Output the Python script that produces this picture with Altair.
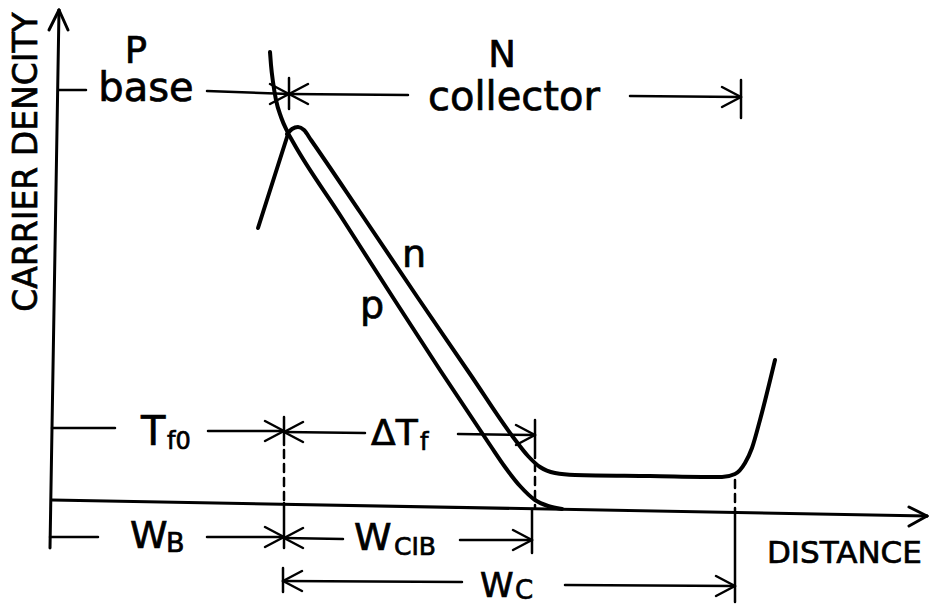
import altair as alt
import pandas as pd

W, H = 929, 604
FONT = "DejaVu Sans"

# ---- carrier density profiles (drawing units: x right, y down) ----
p_x = [270, 271, 273, 276, 281, 287, 293, 340, 392, 440, 490, 505, 520, 535, 548, 562]
p_y = [52, 65, 82, 100, 117, 131, 142, 215, 296, 370, 445, 467, 486, 500, 506, 509]

n_x = [287, 292, 298, 304, 311, 360, 418, 470, 513, 528, 540, 555, 575, 650, 722, 735, 745, 752, 760, 775]
n_y = [134, 129, 127, 130, 140, 212, 298, 374, 437, 456, 467, 473, 475, 476, 477, 474, 463, 448, 420, 360]

branch_x = [258, 288]
branch_y = [228, 134]

# ---- axes ----
axis_x1 = [50, 52]
axis_y1 = [548, 500]
axis_x2 = [59, 927]
axis_y2 = [10, 516]
axis_head_x = [49, 68, 909, 909]
axis_head_y = [30, 30, 507, 526]
axis_tip_x = [59, 59, 927, 927]
axis_tip_y = [10, 10, 516, 516]

# ---- dimension lines ----
dim_x1 = [59, 207, 289, 630, 741, 289,
          52, 208, 284, 458, 284, 535,
          50, 207, 284, 460, 284, 532,
          283, 283, 565, 735]
dim_y1 = [90, 91, 94, 96, 80, 78,
          428, 431, 432, 434, 417, 420,
          537, 537, 538, 540, 503, 509,
          568, 581, 585, 512]
dim_x2 = [86, 289, 408, 741, 741, 289,
          115, 284, 365, 535, 284, 535,
          98, 284, 343, 532, 284, 532,
          283, 462, 735, 735]
dim_y2 = [90, 94, 95, 97, 118, 109,
          428, 431, 433, 435, 445, 458,
          537, 537, 539, 540, 548, 553,
          592, 582, 586, 602]

# dashed projection lines
dash_x1 = [284, 535, 735]
dash_y1 = [450, 463, 480]
dash_x2 = [284, 535, 735]
dash_y2 = [500, 508, 512]

# arrow tips: position and pointing direction (+1 right, -1 left)
tip_x = [289, 289, 741, 284, 284, 535, 284, 284, 532, 283, 735]
tip_y = [94, 94, 97, 431, 432, 435, 537, 538, 540, 581, 586]
tip_dir = [1, -1, 1, 1, -1, 1, 1, -1, 1, -1, 1]
ARM_LEN, ARM_SPREAD = 19, 10

# ---- labels ----
center_text = ["P", "base", "N", "n", "p"]
center_x = [136, 146, 502, 414, 372]
center_y = [63, 101, 67, 267, 318]
center_size = [37, 40, 37, 38, 38]

left_text = ["collector", "T", "f0", "ΔT", "f", "W", "B", "W", "CIB", "W", "C", "DISTANCE"]
left_x = [428, 141, 167, 371, 420, 130, 166, 354, 394, 480, 515, 767]
left_y = [110, 445, 449, 445, 450, 548, 552, 550, 555, 597, 599, 563]
left_size = [40, 40, 24, 36, 24, 38, 27, 38, 25, 34, 26, 31]

ylabel = "CARRIER DENCITY"
ylabel_x, ylabel_y = 37, 162

# ---- tables ----
curves = pd.concat([
    pd.DataFrame({"curve": "p", "x": p_x, "y": p_y, "i": range(len(p_x))}),
    pd.DataFrame({"curve": "n", "x": n_x, "y": n_y, "i": range(len(n_x))}),
    pd.DataFrame({"curve": "branch", "x": branch_x, "y": branch_y, "i": range(len(branch_x))}),
])

dims = pd.DataFrame({"x": dim_x1, "y": dim_y1, "x2": dim_x2, "y2": dim_y2})
heads = pd.DataFrame({
    "x": tip_x + tip_x,
    "y": tip_y + tip_y,
    "x2": [tx - d * ARM_LEN for tx, d in zip(tip_x, tip_dir)] * 2,
    "y2": [ty - ARM_SPREAD for ty in tip_y] + [ty + ARM_SPREAD for ty in tip_y],
})
dims = pd.concat([dims, heads])
dashes = pd.DataFrame({"x": dash_x1, "y": dash_y1, "x2": dash_x2, "y2": dash_y2})
axes = pd.DataFrame({
    "x": axis_x1 + axis_tip_x,
    "y": axis_y1 + axis_tip_y,
    "x2": axis_x2 + axis_head_x,
    "y2": axis_y2 + axis_head_y,
})
ctext = pd.DataFrame({"t": center_text, "x": center_x, "y": center_y, "s": center_size})
ltext = pd.DataFrame({"t": left_text, "x": left_x, "y": left_y, "s": left_size})
ytext = pd.DataFrame({"t": [ylabel], "x": [ylabel_x], "y": [ylabel_y]})

xs = alt.Scale(domain=[0, W], nice=False, zero=False)
ys = alt.Scale(domain=[0, H], nice=False, zero=False, reverse=True)
X = alt.X("x:Q", scale=xs, axis=None)
Y = alt.Y("y:Q", scale=ys, axis=None)

# lettering is drawn with a thin outline for a heavier pen stroke
TEXT_STYLE = dict(font=FONT, baseline="alphabetic", color="black", stroke="black", strokeWidth=0.7)


def segments(df, width, dash=None):
    kw = dict(color="black", strokeWidth=width, strokeCap="round")
    if dash:
        kw["strokeDash"] = dash
    return alt.Chart(df).mark_rule(**kw).encode(X, Y, x2="x2:Q", y2="y2:Q")


curve_layer = alt.Chart(curves).mark_line(
    color="black", strokeWidth=4, interpolate="monotone", strokeCap="round", strokeJoin="round"
).encode(X, Y, detail="curve:N", order="i:Q")

center_layer = alt.Chart(ctext).mark_text(align="center", **TEXT_STYLE).encode(
    X, Y, text="t:N", size=alt.Size("s:Q", scale=None, legend=None)
)

left_layer = alt.Chart(ltext).mark_text(align="left", **TEXT_STYLE).encode(
    X, Y, text="t:N", size=alt.Size("s:Q", scale=None, legend=None)
)

ylabel_layer = alt.Chart(ytext).mark_text(
    align="center", angle=270, fontSize=33, **TEXT_STYLE
).encode(X, Y, text="t:N")

chart = alt.layer(
    segments(axes, 3),
    segments(dims, 2.5),
    segments(dashes, 2.5, [8, 6]),
    curve_layer,
    center_layer,
    left_layer,
    ylabel_layer,
).properties(
    width=W, height=H, padding=0,
    autosize=alt.AutoSizeParams(type="none"),
    background="white",
).configure_view(stroke=None)

chart.save("out.html", embed_options={"renderer": "svg", "actions": False})
